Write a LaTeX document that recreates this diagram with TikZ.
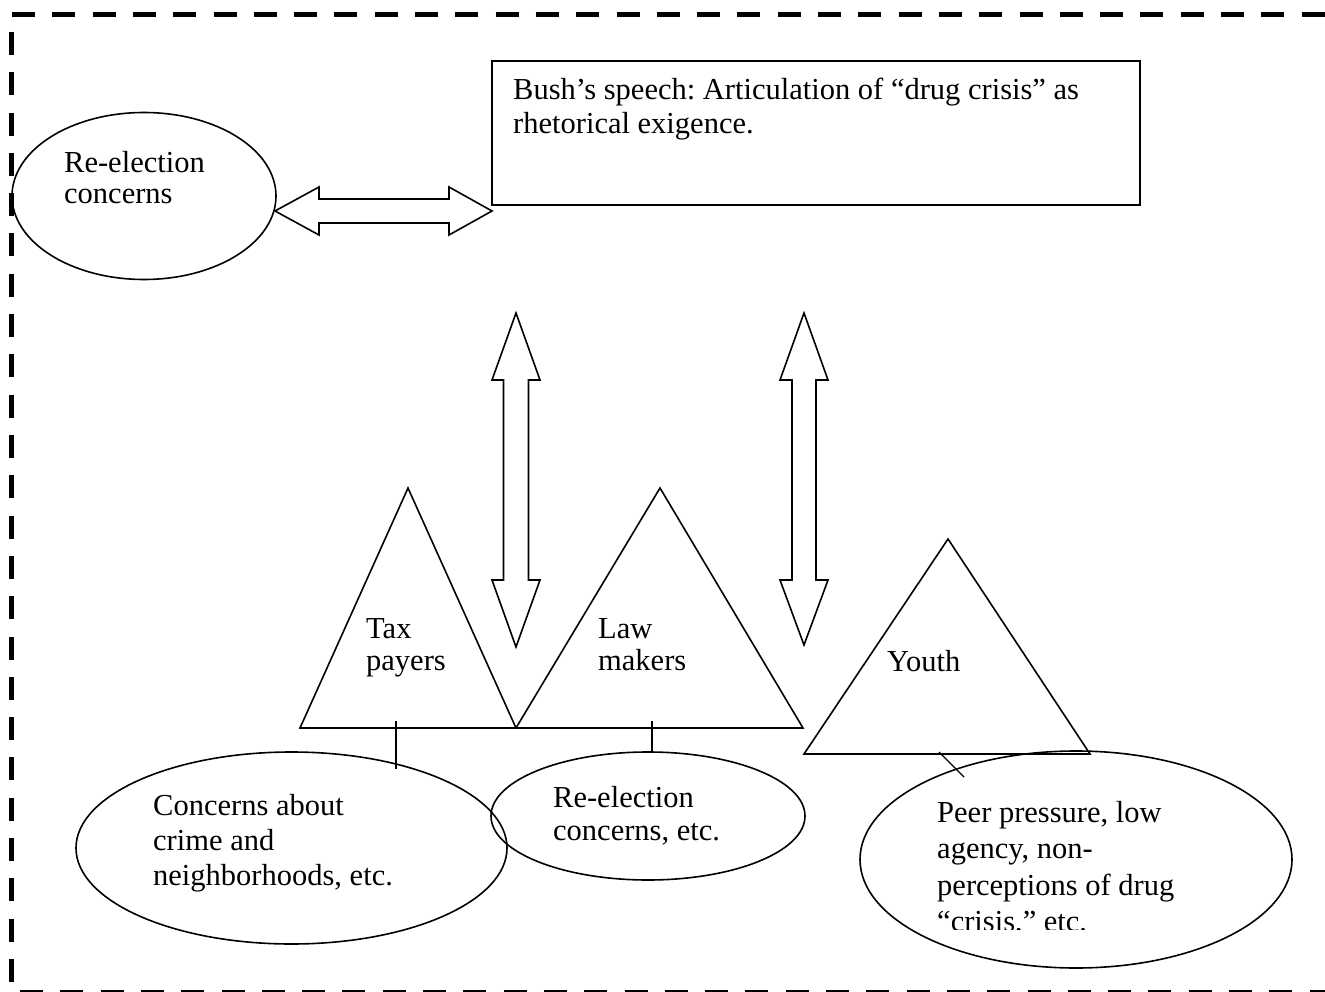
\documentclass[tikz,border=0pt]{standalone}
\usepackage{fontspec}
\setmainfont{Liberation Serif}
\usetikzlibrary{shapes.geometric}
\frenchspacing
\begin{document}
\begin{tikzpicture}[x=1pt,y=-1pt,
  outline/.style={draw=black,line width=1.6pt,line join=miter},
  oval/.style={ellipse,draw=black,line width=1.6pt,inner sep=0pt},
  label/.style={inner sep=0pt,anchor=base west,align=left,font=\fontsize{30.5}{#1}\selectfont},
  label/.default=33,
  border/.style={line width=4.5pt,dash pattern=on 23pt off 17.3pt},
  tick/.style={draw=black,line width=1.4pt}]
\useasboundingbox (0,0) rectangle (1325,992);
% dashed frame
\draw[border] (12,14.5) -- (1340,14.5);
\draw[border] (11.7,32) -- (11.7,985);
\draw[border] (20,992) -- (1340,992);

% top left ellipse
\node[oval,minimum width=264pt,minimum height=167pt] (reel) at (144,196) {};
\node[label=30.5] (reeltxt) at (64,203.5) {Re-election\\concerns};

% speech box
\node[outline,rectangle,minimum width=648pt,minimum height=144pt,inner sep=0pt] (speech) at (816,133) {};
\node[label=34] (speechtxt) at (513,134) {Bush’s speech: Articulation of “drug crisis” as\\rhetorical exigence.};

% horizontal double arrow
\draw[outline] (275,211) -- (319,187) -- (319,199) -- (449,199) -- (449,187) -- (492,211)
  -- (449,235) -- (449,223) -- (319,223) -- (319,235) -- cycle;

% vertical double arrows
\draw[outline] (516,313) -- (540,380) -- (528.5,380) -- (528.5,580) -- (540,580) -- (516,647)
  -- (492,580) -- (503.5,580) -- (503.5,380) -- (492,380) -- cycle;
\draw[outline] (804,313) -- (828,380) -- (816,380) -- (816,580) -- (828,580) -- (804,645)
  -- (780,580) -- (792,580) -- (792,380) -- (780,380) -- cycle;

% triangles
\coordinate (taxL) at (300,728); \coordinate (taxT) at (408,488); \coordinate (taxR) at (516,728);
\coordinate (lawT) at (660,488); \coordinate (lawR) at (803,728);
\coordinate (youL) at (804,754); \coordinate (youT) at (948,539); \coordinate (youR) at (1090,754);
\draw[outline] (taxL) -- (taxT) -- (taxR) -- cycle;
\draw[outline] (taxR) -- (lawT) -- (lawR) -- cycle;
\draw[outline] (youL) -- (youT) -- (youR) -- cycle;
\node[label=32] (taxtxt) at (366,670) {Tax\\payers};
\node[label=32] (lawtxt) at (598,670) {Law\\makers};
\node[label] (youtxt) at (887,671) {Youth};

% bottom ellipses
\node[oval,minimum width=431pt,minimum height=192pt] (crime) at (291.5,848) {};
\node[label=35] (crimetxt) at (153,885) {Concerns about\\crime and\\neighborhoods, etc.};
\node[oval,minimum width=314pt,minimum height=128pt] (reel2) at (648,816) {};
\node[label=33] (reel2txt) at (553,840) {Re-election\\concerns, etc.};
\node[oval,minimum width=432pt,minimum height=217pt] (peer) at (1076,859.5) {};
\begin{scope}
  \clip (880,760) rectangle (1280,929);
  \node[label=36.5] (peertxt) at (937,931.5) {Peer pressure, low\\agency, non-\\perceptions of drug\\“crisis,” etc.};
\end{scope}

% ticks
\coordinate (t1a) at (396,721); \coordinate (t1b) at (396,769);
\coordinate (t2a) at (652,721); \coordinate (t2b) at (652,752);
\coordinate (t3a) at (939,752); \coordinate (t3b) at (964,777);
\draw[tick] (t1a) -- (t1b);
\draw[tick] (t2a) -- (t2b);
\draw[tick] (t3a) -- (t3b);
\end{tikzpicture}
\end{document}
